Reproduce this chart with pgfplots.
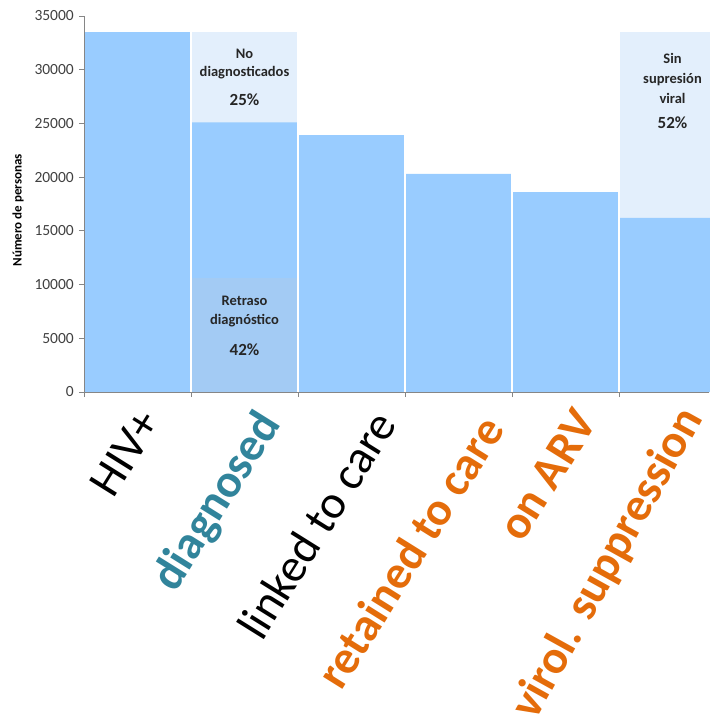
\documentclass[border=0pt]{standalone}
\usepackage{pgfplots}
\pgfplotsset{compat=1.18}
\usepackage{fontspec}
\setmainfont{Carlito}
\definecolor{barblue}{HTML}{99CCFF}
\definecolor{lightov}{HTML}{E3EFFC}
\definecolor{retraso}{HTML}{A3CBF4}
\definecolor{tealc}{HTML}{31849B}
\definecolor{orangec}{HTML}{E46C0A}
\definecolor{axgray}{HTML}{868686}
\tikzset{catlab/.style={anchor=north east, rotate=58, inner sep=0pt, font=\fontsize{47}{50}\selectfont}}
\begin{document}
\begin{tikzpicture}
\useasboundingbox (-84pt,-327pt) rectangle (625pt,392pt);
\begin{axis}[
  at={(0,0)}, anchor=south west,
  scale only axis, width=625pt, height=376pt,
  xmin=0, xmax=5.841, ymin=0, ymax=35000,
  clip=false,
  axis x line=bottom, axis y line=left,
  axis line style={-, axgray, line width=0.8pt},
  every tick/.style={axgray, line width=0.8pt},
  tick align=outside, major tick length=5pt,
  xtick={0,...,5}, xticklabels={},
  ytick={0,5000,...,35000},
  scaled y ticks=false,
  /pgf/number format/.cd, 1000 sep={}, assume math mode=true, /pgfplots/.cd,
  yticklabel style={font=\fontsize{15.5}{17}\selectfont, text=black!75, inner sep=1pt, xshift=-4pt},
  xmajorgrids, grid style={white, line width=2.6pt},
  axis on top,
  ylabel={\bfseries Número de personas},
  ylabel style={at={(axis description cs:-0.1056,0.484)}, anchor=center, rotate=0, font=\fontsize{13}{15}\selectfont},
]
% light overlays (unreached part of the HIV+ population)
\addplot[ybar interval, fill=lightov, draw=none] coordinates {(1,33500) (2,33500)};
\addplot[ybar interval, fill=lightov, draw=none] coordinates {(5,33500) (6,33500)};
% cascade bars
\addplot[ybar interval, fill=barblue, draw=none] coordinates {(0,33500) (1,25100) (2,23900) (3,20300) (4,18600) (5,16200) (6,16200)};
% late diagnosis part
\addplot[ybar interval, fill=retraso, draw=none] coordinates {(1,10600) (2,10600)};

\node[align=center, font=\bfseries\fontsize{14.5}{18}\selectfont, text=black!85] at (axis cs:1.5,30530) {No\\diagnosticados};
\node[font=\bfseries\fontsize{17}{19}\selectfont, text=black!85] at (axis cs:1.5,27180) {25\%};
\node[align=center, font=\bfseries\fontsize{14.5}{19}\selectfont, text=black!85] at (axis cs:1.5,7450) {Retraso\\diagnóstico};
\node[font=\bfseries\fontsize{17}{19}\selectfont, text=black!85] at (axis cs:1.5,3910) {42\%};
\node[align=center, font=\bfseries\fontsize{14.5}{20}\selectfont, text=black!85] at (axis cs:5.5,29230) {Sin\\supresión\\viral};
\node[font=\bfseries\fontsize{17}{19}\selectfont, text=black!85] at (axis cs:5.5,25040) {52\%};

% category labels
\node[catlab] at ([xshift=-1pt,yshift=-14pt]axis cs:0.5,0) {HIV+};
\node[catlab, text=tealc, font=\bfseries\fontsize{47}{50}\selectfont] at ([xshift=9pt,yshift=-14pt]axis cs:1.5,0) {diagnosed};
\node[catlab] at ([xshift=19pt,yshift=-15pt]axis cs:2.5,0) {linked to care};
\node[catlab, text=orangec, font=\bfseries\fontsize{47}{50}\selectfont] at ([xshift=19pt,yshift=-20pt]axis cs:3.5,0) {retained to care};
\node[catlab, text=orangec, font=\bfseries\fontsize{47}{50}\selectfont] at ([xshift=7pt,yshift=-14pt]axis cs:4.5,0) {on ARV};
\node[catlab, rotate=3, text=orangec, font=\bfseries\fontsize{47}{50}\selectfont] at ([xshift=2pt,yshift=-10pt]axis cs:5.5,0) {virol. suppression};
\end{axis}
\end{tikzpicture}
\end{document}
